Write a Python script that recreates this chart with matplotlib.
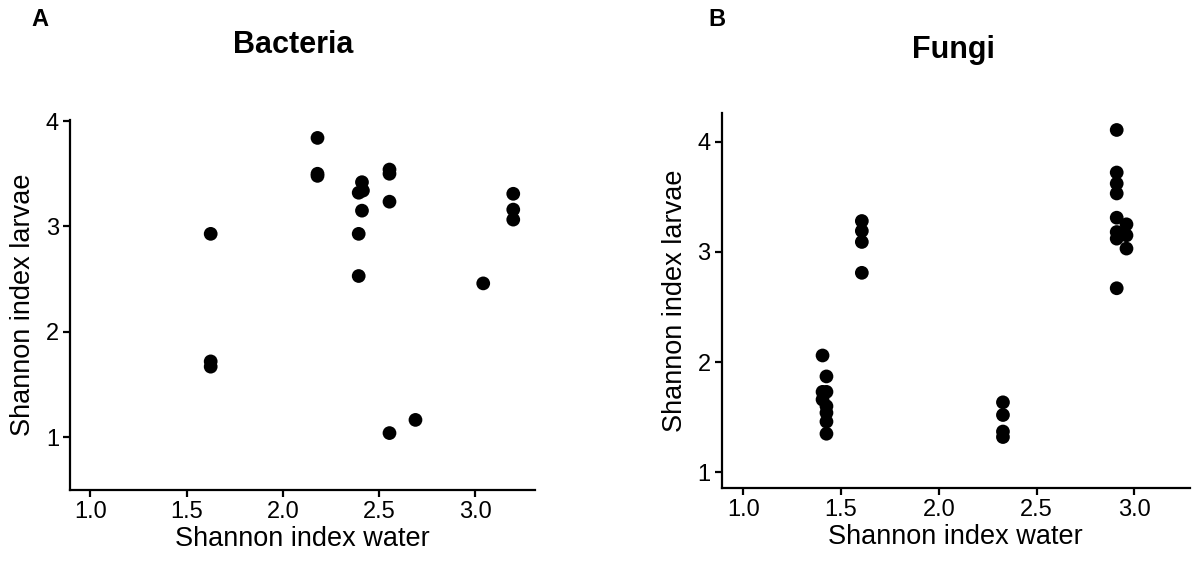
import matplotlib
matplotlib.use("Agg")
import matplotlib.pyplot as plt
from matplotlib import font_manager as fm

# ---- data ----
bact_water = [1.625, 1.625, 1.625, 2.18, 2.18, 2.18, 2.411, 2.394, 2.416, 2.411, 2.394, 2.394,
              2.554, 2.554, 2.554, 2.554, 2.689, 3.041, 3.197, 3.197, 3.197]
bact_larvae = [2.93, 1.72, 1.67, 3.84, 3.50, 3.48, 3.42, 3.32, 3.34, 3.15, 2.93, 2.53,
               3.54, 3.50, 3.235, 1.04, 1.165, 2.46, 3.31, 3.16, 3.065]

fungi_water = [1.405, 1.405, 1.405, 1.425, 1.425, 1.425, 1.425, 1.425, 1.425,
               1.606, 1.606, 1.606, 1.606,
               2.328, 2.328, 2.328, 2.328,
               2.91, 2.91, 2.91, 2.91, 2.91, 2.96, 2.91, 2.96, 2.91, 2.96, 2.91]
fungi_larvae = [2.06, 1.73, 1.66, 1.87, 1.73, 1.60, 1.54, 1.46, 1.35,
                3.28, 3.19, 3.09, 2.81,
                1.635, 1.52, 1.37, 1.32,
                4.106, 3.72, 3.62, 3.53, 3.31, 3.25, 3.18, 3.15, 3.12, 3.03, 2.67]

x_ticks = [1.0, 1.5, 2.0, 2.5, 3.0]
x_ticklabels = ["1.0", "1.5", "2.0", "2.5", "3.0"]
y_ticks = [1, 2, 3, 4]
titles = ["Bacteria", "Fungi"]
panel_letters = ["A", "B"]
xlabel = "Shannon index water"
ylabel = "Shannon index larvae"

# ---- fonts ----
names = {f.name for f in fm.fontManager.ttflist}
if "Liberation Sans Narrow" in names:
    title_family = ["Liberation Sans Narrow", "DejaVu Sans"]
    title_size = 24
    letter_size = 18
else:
    title_family = ["Liberation Sans", "DejaVu Sans"]
    title_size = 22
    letter_size = 17
plt.rcParams["font.family"] = ["Liberation Sans", "DejaVu Sans"]

fig = plt.figure(figsize=(11.94, 5.65), dpi=100)

axA = fig.add_axes([70 / 1194, 75 / 565, 465 / 1194, 370 / 565])
axB = fig.add_axes([721.7 / 1194, 76.7 / 565, 468.3 / 1194, 375.3 / 565])

for ax, xs, ys, xlim, ylim in [
    (axA, bact_water, bact_larvae, (0.894, 3.31), (0.5, 4.01)),
    (axB, fungi_water, fungi_larvae, (0.889, 3.285), (0.855, 4.26)),
]:
    ax.scatter(xs, ys, s=98, color="black", edgecolors="none", zorder=3)
    ax.set_xlim(*xlim)
    ax.set_ylim(*ylim)
    ax.set_xticks(x_ticks)
    ax.set_xticklabels(x_ticklabels)
    ax.set_yticks(y_ticks)
    for side in ["top", "right"]:
        ax.spines[side].set_visible(False)
    for side in ["left", "bottom"]:
        ax.spines[side].set_linewidth(1.6)
    ax.tick_params(axis="both", length=5, width=1.6, labelsize=17, colors="black", pad=3)
    ax.set_xlabel(xlabel, fontsize=19.5, labelpad=2)
    ax.set_ylabel(ylabel, fontsize=19.5, labelpad=7)

fig.text(293 / 1194, 1 - 45 / 565, titles[0], fontsize=title_size, fontweight="bold",
         family=title_family, ha="center", va="center")
fig.text(953 / 1194, 1 - 50 / 565, titles[1], fontsize=title_size, fontweight="bold",
         family=title_family, ha="center", va="center")
fig.text(40 / 1194, 1 - 19 / 565, panel_letters[0], fontsize=letter_size, fontweight="bold",
         family=title_family, ha="center", va="center")
fig.text(717 / 1194, 1 - 19 / 565, panel_letters[1], fontsize=letter_size, fontweight="bold",
         family=title_family, ha="center", va="center")

fig.savefig("out.png", dpi=100, facecolor="white")
